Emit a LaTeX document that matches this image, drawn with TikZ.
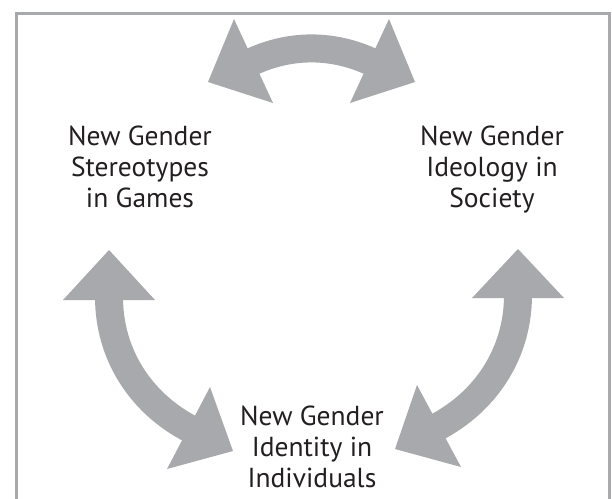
\documentclass[tikz,border=0pt]{standalone}
\usepackage{fontspec}
\setmainfont{PT Sans}
\definecolor{arrowgray}{HTML}{A7A9AC}
\definecolor{txt}{HTML}{231F20}
\begin{document}
\begin{tikzpicture}[x=1pt,y=-1pt,
  lbl/.style={align=center, inner sep=0pt, anchor=base, text=txt,
    font=\fontsize{27.5}{30.8}\selectfont},
  shaft/.style={draw=arrowgray, line width=28pt, shorten <=-3pt, shorten >=-3pt},
  head/.style={fill=arrowgray},
  frame/.style={draw=arrowgray, line width=3pt}]
\useasboundingbox (0,0) rectangle (612,498);
\draw[frame] (16.5,510) -- (16.5,13) -- (609.5,13) -- (609.5,510);

% anchor=base of a multi-line node is the baseline of its last line
\node[lbl] (games) at (140,207) {New Gender\\Stereotypes\\in Games};
\node[lbl] (society) at (492,207) {New Gender\\Ideology in\\Society};
\node[lbl] (indiv) at (312,487) {New Gender\\Identity in\\Individuals};

% top arrow
\coordinate (tl) at (253.5,61);
\coordinate (tr) at (369.5,61);
\draw[shaft] (tl) .. controls (290.5,43.8) and (332.5,43.8) .. (tr);
\fill[head] (208,82) -- (234,19) -- (273,103) -- cycle;
\fill[head] (415,82) -- (389,19) -- (350,103) -- cycle;

% left arrow
\coordinate (lu) at (109,300);
\coordinate (ld) at (188.5,428);
\draw[shaft] (lu) .. controls (109,354) and (140.3,403.1) .. (ld);
\fill[head] (109,250) -- (63,300) -- (155,300) -- cycle;
\fill[head] (233,451) -- (210,387) -- (167,469) -- cycle;

% right arrow
\coordinate (ru) at (518,298);
\coordinate (rd) at (439,426);
\draw[shaft] (ru) .. controls (518,352) and (486.9,400.9) .. (rd);
\fill[head] (518,249) -- (472,298) -- (564,298) -- cycle;
\fill[head] (395,449) -- (417,385) -- (461,467) -- cycle;
\end{tikzpicture}
\end{document}
